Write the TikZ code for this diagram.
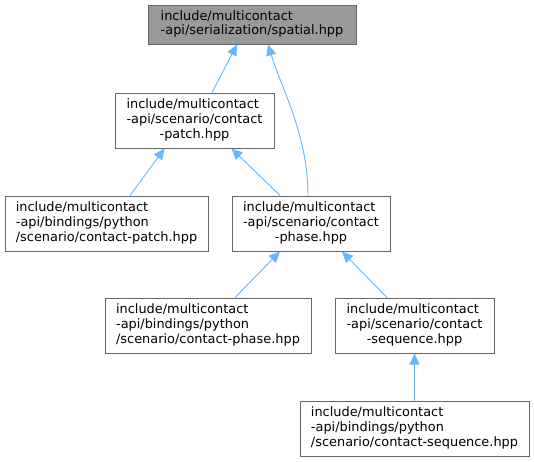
\documentclass[tikz,border=0pt]{standalone}
\usepackage{fontspec}
\setmainfont{DejaVu Sans}
\usetikzlibrary{arrows.meta}
\definecolor{boxline}{HTML}{666666}
\definecolor{boxgrey}{HTML}{999999}
\definecolor{edgeblue}{HTML}{63B8FF}
\newcommand{\trilines}[3]{\begin{tabular}{@{}l@{}}#1\\#2\\\multicolumn{1}{@{}c@{}}{#3}\end{tabular}}
\newcommand{\bilines}[2]{\begin{tabular}{@{}l@{}}#1\\\multicolumn{1}{@{}c@{}}{#2}\end{tabular}}
\begin{document}
\begin{tikzpicture}[x=1pt,y=-1pt,
  filebox/.style={draw=boxline, line width=1pt, fill=white, inner sep=0pt,
    font=\fontsize{12.9}{14.7}\selectfont, minimum height=55pt},
  edge/.style={draw=edgeblue, line width=0.9pt,
    -{Triangle[length=11pt,width=10pt,fill=edgeblue]}}]
\useasboundingbox (0,0) rectangle (534,461);
\node[filebox, fill=boxgrey, minimum width=208pt, minimum height=39pt] (spatial) at (252,24.5)
  {\bilines{include/multicontact}{-api/serialization/spatial.hpp}};
\node[filebox, minimum width=159pt] (patch) at (194.5,120.5)
  {\trilines{include/multicontact}{-api/scenario/contact}{-patch.hpp}};
\node[filebox, minimum width=203pt] (pypatch) at (106.5,223.5)
  {\trilines{include/multicontact}{-api/bindings/python}{/scenario/contact-patch.hpp}};
\node[filebox, minimum width=158pt] (phase) at (311,223.5)
  {\trilines{include/multicontact}{-api/scenario/contact}{-phase.hpp}};
\node[filebox, minimum width=206pt] (pyphase) at (208,325.5)
  {\trilines{include/multicontact}{-api/bindings/python}{/scenario/contact-phase.hpp}};
\node[filebox, minimum width=159pt] (sequence) at (414.5,325.5)
  {\trilines{include/multicontact}{-api/scenario/contact}{-sequence.hpp}};
\node[filebox, minimum width=229pt] (pysequence) at (414.5,428.5)
  {\trilines{include/multicontact}{-api/bindings/python}{/scenario/contact-sequence.hpp}};
\draw[edge] ([xshift=17.5]patch.north) -- ([xshift=-15]spatial.south);
\draw[edge] ([xshift=-3]phase.north) .. controls ([xshift=-3,yshift=60]phase.north) and ([xshift=30,yshift=-45]spatial.south) .. ([xshift=16]spatial.south);
\draw[edge] ([xshift=23.5]pypatch.north) -- ([xshift=-30]patch.south);
\draw[edge] ([xshift=-31]phase.north) -- ([xshift=37]patch.south);
\draw[edge] ([xshift=27]pyphase.north) -- ([xshift=-31]phase.south);
\draw[edge] ([xshift=-27.5]sequence.north) -- ([xshift=31]phase.south);
\draw[edge] (pysequence.north) -- (sequence.south);
\end{tikzpicture}
\end{document}
